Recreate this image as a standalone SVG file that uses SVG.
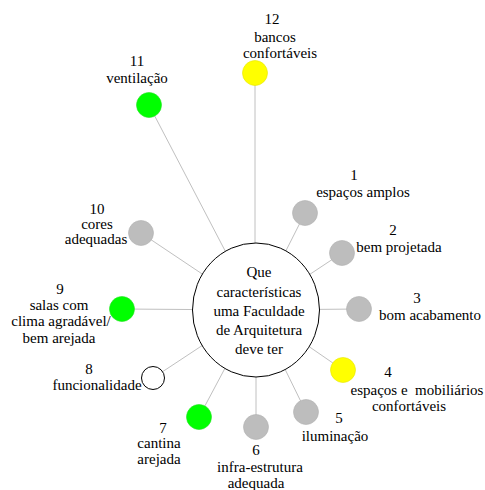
<svg xmlns="http://www.w3.org/2000/svg" width="485" height="490" viewBox="0 0 485 490">
<style>
.spoke{stroke:#c0c0c0;stroke-width:1;fill:none}
.gray{fill:#bdbdbd;stroke:#b0b0b0;stroke-width:0.6}
.green{fill:#00ff00;stroke:#22e022;stroke-width:0.6}
.yellow{fill:#ffff00;stroke:#e6e600;stroke-width:0.6}
.white{fill:#fff;stroke:#000;stroke-width:1}
</style>
<rect width="485" height="490" fill="#fff"/>
<g id="connectors">
<line class="spoke" x1="256" y1="310" x2="305" y2="213"/>
<line class="spoke" x1="256" y1="310" x2="342" y2="253"/>
<line class="spoke" x1="256" y1="310" x2="359" y2="309"/>
<line class="spoke" x1="256" y1="310" x2="343" y2="370"/>
<line class="spoke" x1="256" y1="310" x2="306" y2="412"/>
<line class="spoke" x1="256" y1="310" x2="256" y2="427"/>
<line class="spoke" x1="256" y1="310" x2="199" y2="417"/>
<line class="spoke" x1="256" y1="310" x2="153" y2="378"/>
<line class="spoke" x1="256" y1="310" x2="122" y2="309"/>
<line class="spoke" x1="256" y1="310" x2="141" y2="233"/>
<line class="spoke" x1="256" y1="310" x2="149" y2="105"/>
<line class="spoke" x1="255" y1="310" x2="255" y2="73"/>
</g>
<g font-family="Liberation Serif, Times New Roman, DejaVu Serif, serif" font-size="15" fill="#000" text-anchor="middle">
<g id="center">
<ellipse cx="256" cy="310" rx="63.5" ry="67" fill="#fff" stroke="#000" stroke-width="1"/>
<text x="259" y="277">Que</text>
<text x="259" y="297">características</text>
<text x="259" y="316">uma Faculdade</text>
<text x="259" y="335">de Arquitetura</text>
<text x="259" y="354">deve ter</text>
</g>
<g id="node1"><circle class="gray" cx="305" cy="213" r="12.5"/><text x="354" y="180">1</text><text x="363" y="197">espaços amplos</text></g>
<g id="node2"><circle class="gray" cx="342" cy="253" r="12.5"/><text x="393" y="235">2</text><text x="399" y="252">bem projetada</text></g>
<g id="node3"><circle class="gray" cx="359" cy="309" r="12.5"/><text x="417" y="303">3</text><text x="430" y="320">bom acabamento</text></g>
<g id="node4"><circle class="yellow" cx="343" cy="370" r="12.5"/><text x="388" y="377">4</text><text x="417" y="395" xml:space="preserve">espaços e  mobiliários</text><text x="409" y="411">confortáveis</text></g>
<g id="node5"><circle class="gray" cx="306" cy="412" r="12.5"/><text x="339" y="423">5</text><text x="335" y="441">iluminação</text></g>
<g id="node6"><circle class="gray" cx="256" cy="427" r="12.5"/><text x="256" y="455">6</text><text x="260" y="472">infra-estrutura</text><text x="256" y="488">adequada</text></g>
<g id="node7"><circle class="green" cx="199" cy="417" r="12.5"/><text x="163" y="433">7</text><text x="159" y="448">cantina</text><text x="159" y="464">arejada</text></g>
<g id="node8"><circle class="white" cx="153" cy="378" r="11.5"/><text x="89" y="374">8</text><text x="97" y="390">funcionalidade</text></g>
<g id="node9"><circle class="green" cx="122" cy="309" r="12.5"/><text x="60" y="294">9</text><text x="59" y="310">salas com</text><text x="61" y="326">clima agradável/</text><text x="59" y="343">bem arejada</text></g>
<g id="node10"><circle class="gray" cx="141" cy="233" r="12.5"/><text x="97" y="214">10</text><text x="97" y="229">cores</text><text x="96" y="244">adequadas</text></g>
<g id="node11"><circle class="green" cx="149" cy="105" r="12.5"/><text x="137" y="66">11</text><text x="137" y="83">ventilação</text></g>
<g id="node12"><circle class="yellow" cx="255" cy="73" r="12.5"/><text x="272" y="24">12</text><text x="275" y="42">bancos</text><text x="280" y="58">confortáveis</text></g>
</g>
</svg>
